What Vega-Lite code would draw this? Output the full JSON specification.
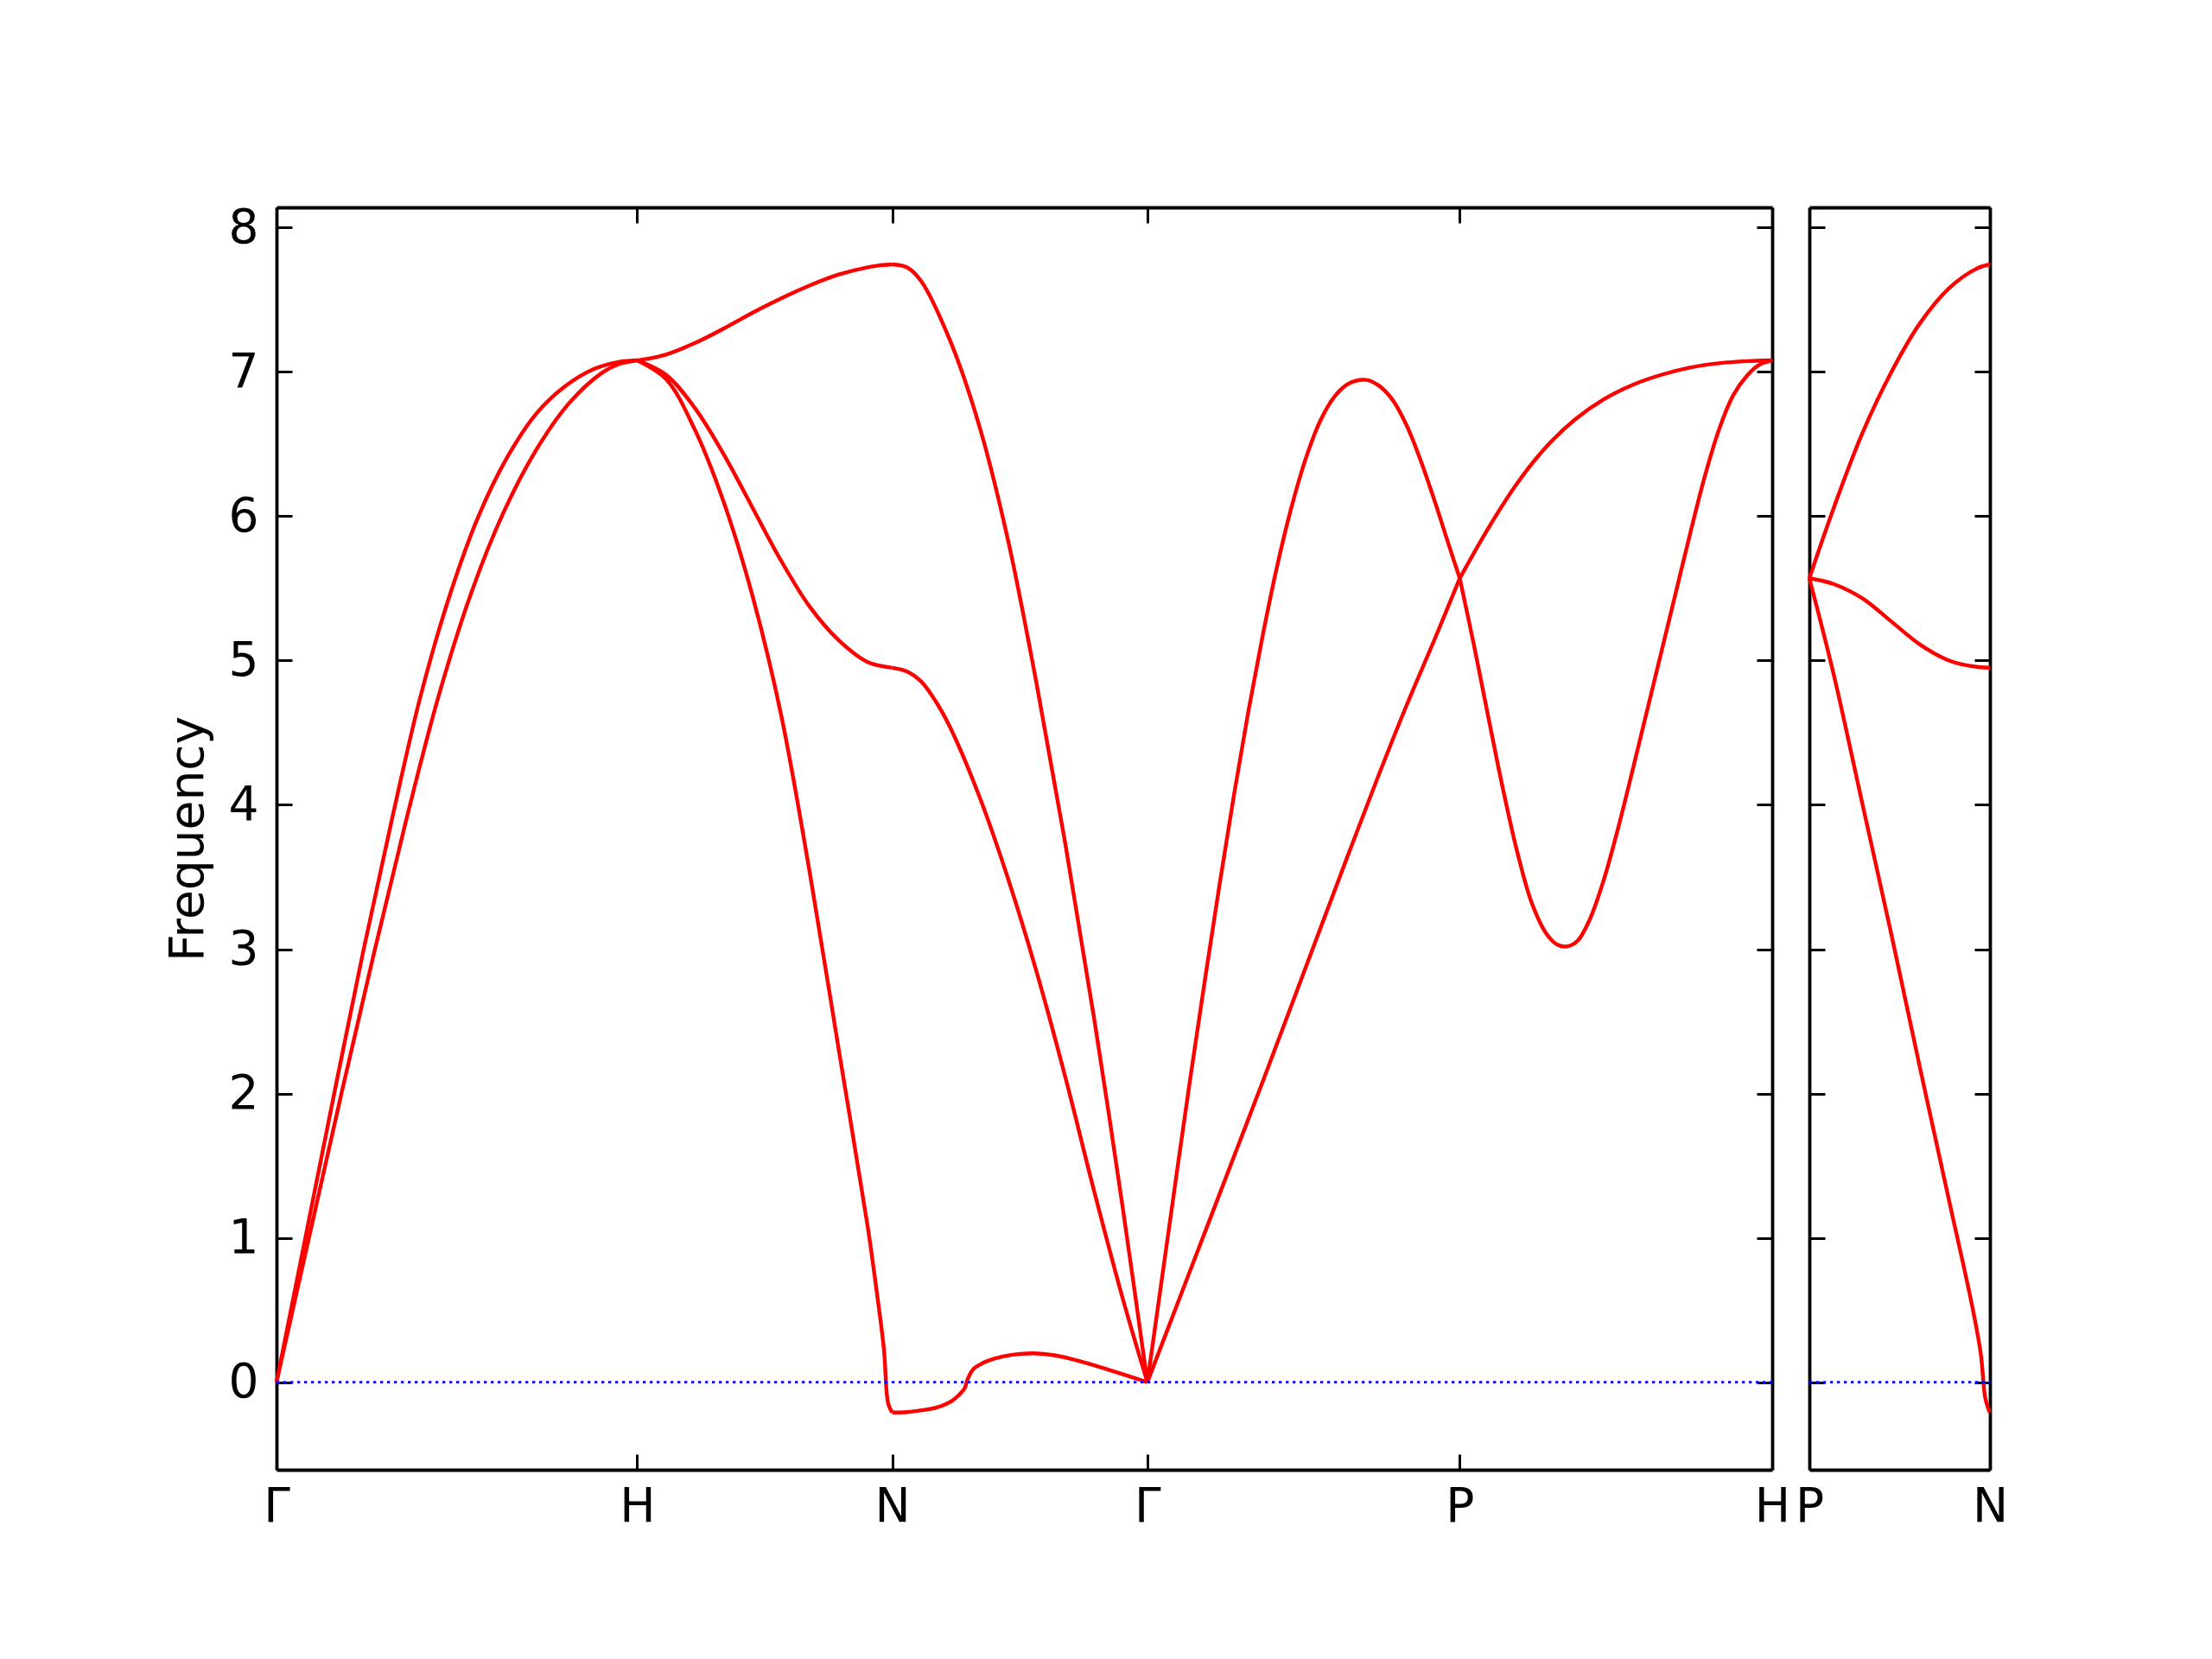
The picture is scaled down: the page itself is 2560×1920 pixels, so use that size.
{
  "$schema": "https://vega.github.io/schema/vega-lite/v6.json",
  "background": "white",
  "padding": {"left": 190, "top": 236, "right": 10, "bottom": 10},
  "config": {
    "view": {"stroke": null},
    "font": "DejaVu Sans",
    "axis": {
      "domainColor": "black", "domainWidth": 3.8,
      "tickColor": "black", "tickWidth": 3, "tickSize": -18,
      "labelFont": "DejaVu Sans", "labelFontSize": 55, "labelColor": "black",
      "grid": false, "labelFlush": false, "labelOverlap": false, "labelBound": false,
      "titleFont": "DejaVu Sans", "titleFontSize": 55, "titleFontWeight": "normal", "titleColor": "black"
    }
  },
  "datasets": {
    "zeroMain": [{"d": 0, "f": 0}, {"d": 4.1463, "f": 0}],
    "zeroSide": [{"d": 0, "f": 0}, {"d": 0.5, "f": 0}],
    "main": [
      {"b": "GH1", "d": 0, "f": 0}, {"b": "GH1", "d": 0.08, "f": 1.0}, {"b": "GH1", "d": 0.16, "f": 2.0}, {"b": "GH1", "d": 0.24, "f": 2.98}, {"b": "GH1", "d": 0.32, "f": 3.9}, {"b": "GH1", "d": 0.40, "f": 4.76}, {"b": "GH1", "d": 0.48, "f": 5.45}, {"b": "GH1", "d": 0.56, "f": 6.0}, {"b": "GH1", "d": 0.64, "f": 6.41}, {"b": "GH1", "d": 0.72, "f": 6.71}, {"b": "GH1", "d": 0.80, "f": 6.9}, {"b": "GH1", "d": 0.88, "f": 7.02}, {"b": "GH1", "d": 0.94, "f": 7.065}, {"b": "GH1", "d": 1.0, "f": 7.08},
      {"b": "GH2", "d": 0, "f": 0}, {"b": "GH2", "d": 0.09, "f": 1.0}, {"b": "GH2", "d": 0.18, "f": 2.0}, {"b": "GH2", "d": 0.27, "f": 2.97}, {"b": "GH2", "d": 0.36, "f": 3.9}, {"b": "GH2", "d": 0.45, "f": 4.76}, {"b": "GH2", "d": 0.54, "f": 5.47}, {"b": "GH2", "d": 0.63, "f": 6.03}, {"b": "GH2", "d": 0.72, "f": 6.46}, {"b": "GH2", "d": 0.81, "f": 6.78}, {"b": "GH2", "d": 0.90, "f": 6.99}, {"b": "GH2", "d": 0.95, "f": 7.055}, {"b": "GH2", "d": 1.0, "f": 7.08},
      {"b": "HN1", "d": 1.0, "f": 7.08}, {"b": "HN1", "d": 1.0798, "f": 7.12}, {"b": "HN1", "d": 1.1597, "f": 7.2}, {"b": "HN1", "d": 1.2395, "f": 7.3}, {"b": "HN1", "d": 1.3194, "f": 7.41}, {"b": "HN1", "d": 1.3992, "f": 7.51}, {"b": "HN1", "d": 1.479, "f": 7.6}, {"b": "HN1", "d": 1.5589, "f": 7.675}, {"b": "HN1", "d": 1.6387, "f": 7.725}, {"b": "HN1", "d": 1.6786, "f": 7.74}, {"b": "HN1", "d": 1.7071, "f": 7.745},
      {"b": "HN2", "d": 1.0, "f": 7.08}, {"b": "HN2", "d": 1.0798, "f": 6.98}, {"b": "HN2", "d": 1.1597, "f": 6.75}, {"b": "HN2", "d": 1.2395, "f": 6.43}, {"b": "HN2", "d": 1.3194, "f": 6.06}, {"b": "HN2", "d": 1.3992, "f": 5.69}, {"b": "HN2", "d": 1.479, "f": 5.37}, {"b": "HN2", "d": 1.5589, "f": 5.14}, {"b": "HN2", "d": 1.6387, "f": 4.99}, {"b": "HN2", "d": 1.7071, "f": 4.95},
      {"b": "HN3", "d": 1.0, "f": 7.08}, {"b": "HN3", "d": 1.0798, "f": 6.95}, {"b": "HN3", "d": 1.1597, "f": 6.6}, {"b": "HN3", "d": 1.2395, "f": 6.1}, {"b": "HN3", "d": 1.3194, "f": 5.45}, {"b": "HN3", "d": 1.3992, "f": 4.62}, {"b": "HN3", "d": 1.479, "f": 3.52}, {"b": "HN3", "d": 1.5589, "f": 2.3}, {"b": "HN3", "d": 1.6387, "f": 1.08}, {"b": "HN3", "d": 1.6611, "f": 0.68}, {"b": "HN3", "d": 1.6838, "f": 0.23}, {"b": "HN3", "d": 1.6958, "f": -0.15}, {"b": "HN3", "d": 1.7071, "f": -0.21},
      {"b": "NG1", "d": 1.7071, "f": 7.745}, {"b": "NG1", "d": 1.747, "f": 7.725}, {"b": "NG1", "d": 1.7869, "f": 7.63}, {"b": "NG1", "d": 1.8668, "f": 7.22}, {"b": "NG1", "d": 1.9466, "f": 6.64}, {"b": "NG1", "d": 2.0265, "f": 5.85}, {"b": "NG1", "d": 2.1063, "f": 4.85}, {"b": "NG1", "d": 2.1861, "f": 3.74}, {"b": "NG1", "d": 2.266, "f": 2.53}, {"b": "NG1", "d": 2.3458, "f": 1.21}, {"b": "NG1", "d": 2.4142, "f": 0},
      {"b": "NG2", "d": 1.7071, "f": 4.95}, {"b": "NG2", "d": 1.7469, "f": 4.925}, {"b": "NG2", "d": 1.7869, "f": 4.855}, {"b": "NG2", "d": 1.8268, "f": 4.72}, {"b": "NG2", "d": 1.8668, "f": 4.54}, {"b": "NG2", "d": 1.9466, "f": 4.07}, {"b": "NG2", "d": 2.0265, "f": 3.5}, {"b": "NG2", "d": 2.1063, "f": 2.85}, {"b": "NG2", "d": 2.1861, "f": 2.12}, {"b": "NG2", "d": 2.266, "f": 1.33}, {"b": "NG2", "d": 2.3458, "f": 0.58}, {"b": "NG2", "d": 2.4142, "f": 0},
      {"b": "NG3", "d": 1.7071, "f": -0.21}, {"b": "NG3", "d": 1.7485, "f": -0.207}, {"b": "NG3", "d": 1.7884, "f": -0.195}, {"b": "NG3", "d": 1.8283, "f": -0.177}, {"b": "NG3", "d": 1.8722, "f": -0.13}, {"b": "NG3", "d": 1.8922, "f": -0.088}, {"b": "NG3", "d": 1.9082, "f": -0.04}, {"b": "NG3", "d": 1.9162, "f": 0.022}, {"b": "NG3", "d": 1.9322, "f": 0.092}, {"b": "NG3", "d": 1.96, "f": 0.135}, {"b": "NG3", "d": 1.988, "f": 0.162}, {"b": "NG3", "d": 2.04, "f": 0.19}, {"b": "NG3", "d": 2.0999, "f": 0.2}, {"b": "NG3", "d": 2.16, "f": 0.185}, {"b": "NG3", "d": 2.2275, "f": 0.145}, {"b": "NG3", "d": 2.3073, "f": 0.085}, {"b": "NG3", "d": 2.4142, "f": 0},
      {"b": "GP1", "d": 2.4142, "f": 0}, {"b": "GP1", "d": 2.4541, "f": 0.71}, {"b": "GP1", "d": 2.494, "f": 1.42}, {"b": "GP1", "d": 2.534, "f": 2.12}, {"b": "GP1", "d": 2.5739, "f": 2.79}, {"b": "GP1", "d": 2.6138, "f": 3.44}, {"b": "GP1", "d": 2.6537, "f": 4.06}, {"b": "GP1", "d": 2.6936, "f": 4.64}, {"b": "GP1", "d": 2.7336, "f": 5.17}, {"b": "GP1", "d": 2.7735, "f": 5.65}, {"b": "GP1", "d": 2.8134, "f": 6.06}, {"b": "GP1", "d": 2.8533, "f": 6.4}, {"b": "GP1", "d": 2.8932, "f": 6.66}, {"b": "GP1", "d": 2.9332, "f": 6.83}, {"b": "GP1", "d": 2.9731, "f": 6.92}, {"b": "GP1", "d": 3.0186, "f": 6.945}, {"b": "GP1", "d": 3.0529, "f": 6.91}, {"b": "GP1", "d": 3.0928, "f": 6.81}, {"b": "GP1", "d": 3.1328, "f": 6.63}, {"b": "GP1", "d": 3.1727, "f": 6.38}, {"b": "GP1", "d": 3.2126, "f": 6.09}, {"b": "GP1", "d": 3.2525, "f": 5.78}, {"b": "GP1", "d": 3.2802, "f": 5.57},
      {"b": "GP2", "d": 2.4142, "f": 0}, {"b": "GP2", "d": 2.494, "f": 0.52}, {"b": "GP2", "d": 2.5739, "f": 1.04}, {"b": "GP2", "d": 2.6537, "f": 1.56}, {"b": "GP2", "d": 2.7336, "f": 2.08}, {"b": "GP2", "d": 2.8134, "f": 2.61}, {"b": "GP2", "d": 2.8932, "f": 3.14}, {"b": "GP2", "d": 2.9731, "f": 3.67}, {"b": "GP2", "d": 3.0529, "f": 4.19}, {"b": "GP2", "d": 3.1328, "f": 4.69}, {"b": "GP2", "d": 3.2126, "f": 5.16}, {"b": "GP2", "d": 3.2802, "f": 5.57},
      {"b": "PH1", "d": 3.2802, "f": 5.57}, {"b": "PH1", "d": 3.36, "f": 5.92}, {"b": "PH1", "d": 3.4399, "f": 6.23}, {"b": "PH1", "d": 3.5197, "f": 6.48}, {"b": "PH1", "d": 3.5996, "f": 6.67}, {"b": "PH1", "d": 3.6794, "f": 6.81}, {"b": "PH1", "d": 3.7592, "f": 6.91}, {"b": "PH1", "d": 3.8391, "f": 6.98}, {"b": "PH1", "d": 3.9189, "f": 7.03}, {"b": "PH1", "d": 3.9988, "f": 7.06}, {"b": "PH1", "d": 4.0786, "f": 7.075}, {"b": "PH1", "d": 4.1463, "f": 7.08},
      {"b": "PH2", "d": 3.2802, "f": 5.57}, {"b": "PH2", "d": 3.3201, "f": 5.1}, {"b": "PH2", "d": 3.36, "f": 4.6}, {"b": "PH2", "d": 3.4, "f": 4.11}, {"b": "PH2", "d": 3.4399, "f": 3.67}, {"b": "PH2", "d": 3.4798, "f": 3.32}, {"b": "PH2", "d": 3.5197, "f": 3.11}, {"b": "PH2", "d": 3.5517, "f": 3.03}, {"b": "PH2", "d": 3.5796, "f": 3.02}, {"b": "PH2", "d": 3.6075, "f": 3.06}, {"b": "PH2", "d": 3.6395, "f": 3.2}, {"b": "PH2", "d": 3.6794, "f": 3.48}, {"b": "PH2", "d": 3.7193, "f": 3.84}, {"b": "PH2", "d": 3.7592, "f": 4.24}, {"b": "PH2", "d": 3.7991, "f": 4.65}, {"b": "PH2", "d": 3.8391, "f": 5.06}, {"b": "PH2", "d": 3.879, "f": 5.47}, {"b": "PH2", "d": 3.9189, "f": 5.88}, {"b": "PH2", "d": 3.9588, "f": 6.27}, {"b": "PH2", "d": 3.9988, "f": 6.6}, {"b": "PH2", "d": 4.0387, "f": 6.84}, {"b": "PH2", "d": 4.0786, "f": 6.98}, {"b": "PH2", "d": 4.1106, "f": 7.05}, {"b": "PH2", "d": 4.1463, "f": 7.08}
    ],
    "side": [
      {"b": "PN1", "d": 0, "f": 5.57}, {"b": "PN1", "d": 0.0678, "f": 6.06}, {"b": "PN1", "d": 0.1475, "f": 6.58}, {"b": "PN1", "d": 0.2273, "f": 7.0}, {"b": "PN1", "d": 0.307, "f": 7.34}, {"b": "PN1", "d": 0.3868, "f": 7.58}, {"b": "PN1", "d": 0.4665, "f": 7.72}, {"b": "PN1", "d": 0.5, "f": 7.745},
      {"b": "PN2", "d": 0, "f": 5.57}, {"b": "PN2", "d": 0.0678, "f": 5.53}, {"b": "PN2", "d": 0.1475, "f": 5.43}, {"b": "PN2", "d": 0.2273, "f": 5.27}, {"b": "PN2", "d": 0.307, "f": 5.11}, {"b": "PN2", "d": 0.3868, "f": 5.0}, {"b": "PN2", "d": 0.4665, "f": 4.955}, {"b": "PN2", "d": 0.5, "f": 4.95},
      {"b": "PN3", "d": 0, "f": 5.57}, {"b": "PN3", "d": 0.0678, "f": 4.9}, {"b": "PN3", "d": 0.1475, "f": 4.0}, {"b": "PN3", "d": 0.2273, "f": 3.1}, {"b": "PN3", "d": 0.307, "f": 2.17}, {"b": "PN3", "d": 0.3868, "f": 1.26}, {"b": "PN3", "d": 0.4506, "f": 0.53}, {"b": "PN3", "d": 0.4745, "f": 0.2}, {"b": "PN3", "d": 0.4864, "f": -0.1}, {"b": "PN3", "d": 0.495, "f": -0.18}, {"b": "PN3", "d": 0.5, "f": -0.21}
    ]
  },
  "spacing": 5,
  "hconcat": [
    {
      "width": 1731,
      "height": 1461,
      "layer": [
        {
          "data": {"name": "main"},
          "mark": {"type": "line", "color": "#ff0000", "strokeWidth": 4.4, "interpolate": "catmull-rom"},
          "encoding": {
            "x": {"field": "d", "type": "quantitative", "scale": {"domain": [0, 4.1463], "nice": false, "zero": false},
                  "axis": {"orient": "bottom", "values": [0, 1, 1.7071, 2.4142, 3.2802, 4.1463], "labelPadding": 34, "title": null,
                           "labelExpr": "datum.value < 0.5 ? 'Γ' : datum.value < 1.5 ? 'H' : datum.value < 2 ? 'N' : datum.value < 3 ? 'Γ' : datum.value < 4 ? 'P' : 'H'"}},
            "y": {"field": "f", "type": "quantitative", "scale": {"domain": [-0.607, 8.14], "nice": false, "zero": false},
                  "axis": {"orient": "left", "values": [0, 1, 2, 3, 4, 5, 6, 7, 8], "format": "d", "labelPadding": 39, "title": "Frequency", "titlePadding": 18}},
            "detail": {"field": "b"}
          }
        },
        {
          "data": {"name": "zeroMain"},
          "mark": {"type": "line", "color": "#0000ff", "strokeWidth": 2.6, "strokeDash": [3.3, 4.7]},
          "encoding": {
            "x": {"field": "d", "type": "quantitative", "scale": {"domain": [0, 4.1463], "nice": false, "zero": false},
                  "axis": {"orient": "top", "values": [0, 1, 1.7071, 2.4142, 3.2802, 4.1463], "labels": false, "title": null}},
            "y": {"field": "f", "type": "quantitative", "scale": {"domain": [-0.607, 8.14], "nice": false, "zero": false},
                  "axis": {"orient": "right", "values": [0, 1, 2, 3, 4, 5, 6, 7, 8], "labels": false, "title": null}}
          }
        }
      ],
      "resolve": {"axis": {"x": "independent", "y": "independent"}}
    },
    {
      "width": 209,
      "height": 1461,
      "layer": [
        {
          "data": {"name": "side"},
          "mark": {"type": "line", "color": "#ff0000", "strokeWidth": 4.4, "interpolate": "catmull-rom"},
          "encoding": {
            "x": {"field": "d", "type": "quantitative", "scale": {"domain": [0, 0.5], "nice": false, "zero": false},
                  "axis": {"orient": "bottom", "values": [0, 0.5], "labelPadding": 34, "title": null,
                           "labelExpr": "datum.value < 0.25 ? 'P' : 'N'"}},
            "y": {"field": "f", "type": "quantitative", "scale": {"domain": [-0.607, 8.14], "nice": false, "zero": false},
                  "axis": {"orient": "left", "values": [0, 1, 2, 3, 4, 5, 6, 7, 8], "labels": false, "title": null}},
            "detail": {"field": "b"}
          }
        },
        {
          "data": {"name": "zeroSide"},
          "mark": {"type": "line", "color": "#0000ff", "strokeWidth": 2.6, "strokeDash": [3.3, 4.7]},
          "encoding": {
            "x": {"field": "d", "type": "quantitative", "scale": {"domain": [0, 0.5], "nice": false, "zero": false},
                  "axis": {"orient": "top", "values": [0, 0.5], "labels": false, "title": null}},
            "y": {"field": "f", "type": "quantitative", "scale": {"domain": [-0.607, 8.14], "nice": false, "zero": false},
                  "axis": {"orient": "right", "values": [0, 1, 2, 3, 4, 5, 6, 7, 8], "labels": false, "title": null}}
          }
        }
      ],
      "resolve": {"axis": {"x": "independent", "y": "independent"}}
    }
  ]
}
